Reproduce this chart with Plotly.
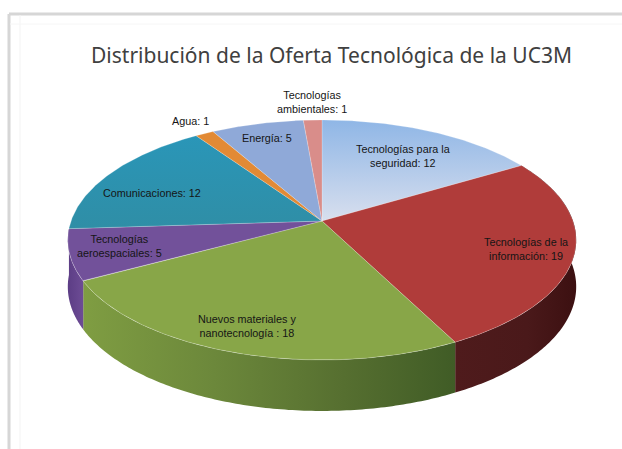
import numpy as np
import plotly.graph_objects as go

title = "Distribución de la Oferta Tecnológica de la UC3M"
categories = ["Tecnologías para la<br>seguridad", "Tecnologías de la<br>información",
              "Nuevos materiales y<br>nanotecnología ", "Tecnologías<br>aeroespaciales",
              "Comunicaciones", "Agua", "Energía", "Tecnologías<br>ambientales"]
values = [12, 19, 18, 5, 12, 1, 5, 1]
top_colors = ["#aec6e8", "#b03c3a", "#88a648", "#72519a", "#2f93b0", "#e28a35", "#8fa9d8", "#d98d8a"]
top_gradients = [[[0, "#d8dfee"], [1, "#8fb6e6"]], None, None, None,
                 [[0, "#2f8ea6"], [1, "#2a96b8"]], None, None, None]
wall_gradients = [None, [[0, "#4f1b1c"], [0.6, "#4a191a"], [1, "#3c1011"]],
                  [[0, "#7f9d42"], [0.35, "#6c883b"], [0.7, "#566f30"], [1, "#405c26"]],
                  [[0, "#5c3d85"], [1, "#6d4c95"]], None, None, None, None]
label_xy = [(403, 156), (526, 249), (247, 326), (119, 246), (152, 193), (190, 121), (267, 138), (312, 102)]

# projected pie geometry (pixel-aligned axes)
X0, Y0, A, B, K, DEPTH = 322, 221, 251, 117, 0.158, 46


def project(t):
    u, v = np.sin(t), -np.cos(t)
    d = 1 - K * v
    return X0 + A * u / d, Y0 + B * v / d, v


fig = go.Figure()
edges = np.cumsum([0] + values) / sum(values) * 2 * np.pi

# walls, painted first so that the top surface covers the hidden part
for i in range(len(values)):
    if wall_gradients[i] is None:
        continue
    t = np.linspace(edges[i], edges[i + 1], 120)
    x, y, v = project(t)
    yb = y + DEPTH + 5 * v
    fig.add_trace(go.Scatter(
        x=np.r_[x, x[::-1]], y=np.r_[y, yb[::-1]], mode="none", fill="toself",
        fillgradient=dict(type="horizontal", colorscale=wall_gradients[i]),
        hoverinfo="skip", showlegend=False))

# top surface
for i in range(len(values)):
    t = np.linspace(edges[i], edges[i + 1], 120)
    x, y, _ = project(t)
    kw = dict(fillcolor=top_colors[i])
    if top_gradients[i] is not None:
        kw = dict(fillgradient=dict(type="vertical", colorscale=top_gradients[i]))
    fig.add_trace(go.Scatter(
        x=np.r_[X0, x, X0], y=np.r_[Y0, y, Y0], mode="lines", fill="toself",
        line=dict(color="rgba(255,255,255,0.35)", width=0.6),
        hoverinfo="skip", showlegend=False, **kw))

annotations = [dict(x=lx, y=ly, xref="x", yref="y", text=f"{c}: {val}", showarrow=False,
                    align="center", xanchor="center", yanchor="middle",
                    font=dict(family="Liberation Sans", size=10.8, color="#151515"))
               for c, val, (lx, ly) in zip(categories, values, label_xy)]
annotations.append(dict(x=331, y=55, xref="x", yref="y", text=title, showarrow=False,
                        xanchor="center", yanchor="middle",
                        font=dict(family="Noto Sans", size=21, color="#404040")))

frame = dict(type="line", xref="x", yref="y", layer="below")
shapes = [
    dict(frame, x0=9, x1=9, y0=14, y1=449, line=dict(color="#d6d6d6", width=3)),
    dict(frame, x0=9, x1=622, y0=14, y1=14, line=dict(color="#d6d6d6", width=3)),
    dict(frame, x0=20, x1=20, y0=15, y1=449, line=dict(color="#f3f3f3", width=1)),
    dict(frame, x0=10, x1=622, y0=24, y1=24, line=dict(color="#f6f6f6", width=1)),
]

fig.update_layout(
    width=622, height=449, margin=dict(l=0, r=0, t=0, b=0),
    paper_bgcolor="white", plot_bgcolor="white", showlegend=False,
    xaxis=dict(range=[0, 622], visible=False, fixedrange=True),
    yaxis=dict(range=[449, 0], visible=False, fixedrange=True),
    annotations=annotations, shapes=shapes,
)
fig.write_html("out.html", config=dict(displayModeBar=False),
               post_script="document.body.style.margin='0';")
